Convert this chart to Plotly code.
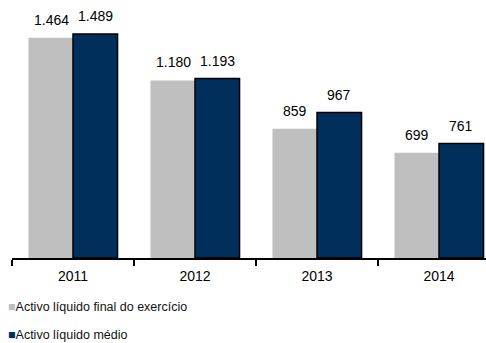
import plotly.graph_objects as go

years = ["2011", "2012", "2013", "2014"]
final_vals = [1464, 1180, 859, 699]
medio_vals = [1489, 1193, 967, 761]
series_names = ["Activo líquido final do exercício", "Activo líquido médio"]

GRAY = "#BFBFBF"
NAVY = "#002F5C"
FONT = "Liberation Sans, Arial, sans-serif"

fig = go.Figure()
fig.add_trace(go.Bar(x=years, y=final_vals, name=series_names[0],
                     marker=dict(color=GRAY, line=dict(width=0)), showlegend=False))
fig.add_trace(go.Bar(x=years, y=medio_vals, name=series_names[1],
                     marker=dict(color=NAVY, line=dict(color="#000000", width=1.5)),
                     showlegend=False))

def fmt(v):
    return f"{v:,}".replace(",", ".")

for i, (a, b) in enumerate(zip(final_vals, medio_vals)):
    fig.add_annotation(x=i, y=a, text=fmt(a), xref="x", yref="y", showarrow=False,
                       xshift=-22, yshift=8, yanchor="bottom",
                       font=dict(family=FONT, size=14, color="#000"))
    fig.add_annotation(x=i, y=b, text=fmt(b), xref="x", yref="y", showarrow=False,
                       xshift=22, yshift=8, yanchor="bottom",
                       font=dict(family=FONT, size=14, color="#000"))

# manual legend
legend_colors = [GRAY, NAVY]
legend_y = [-0.19, -0.3]
for name, col, ly in zip(series_names, legend_colors, legend_y):
    fig.add_annotation(xref="paper", yref="paper", x=-0.013, y=ly,
                       xanchor="left", yanchor="middle", showarrow=False,
                       text=f"<span style='color:{col}'>■</span>{name}",
                       font=dict(family=FONT, size=12.5, color="#111"))

fig.update_layout(
    width=486, height=343,
    margin=dict(l=12, r=0, t=0, b=85),
    paper_bgcolor="white", plot_bgcolor="white",
    barmode="group", bargap=0.27, bargroupgap=0,
    font=dict(family=FONT, size=13, color="#000"),
    showlegend=False,
)
fig.update_xaxes(type="category", range=[-0.5, 3.385], showline=True,
                 linecolor="#000", linewidth=2, ticks="outside", tickson="boundaries",
                 ticklen=6, tickwidth=2, tickcolor="#000", showgrid=False,
                 tickfont=dict(size=14), ticklabelstandoff=4)
fig.update_yaxes(range=[0, 1715], visible=False, showgrid=False, zeroline=False)

fig.write_html("out.html")
